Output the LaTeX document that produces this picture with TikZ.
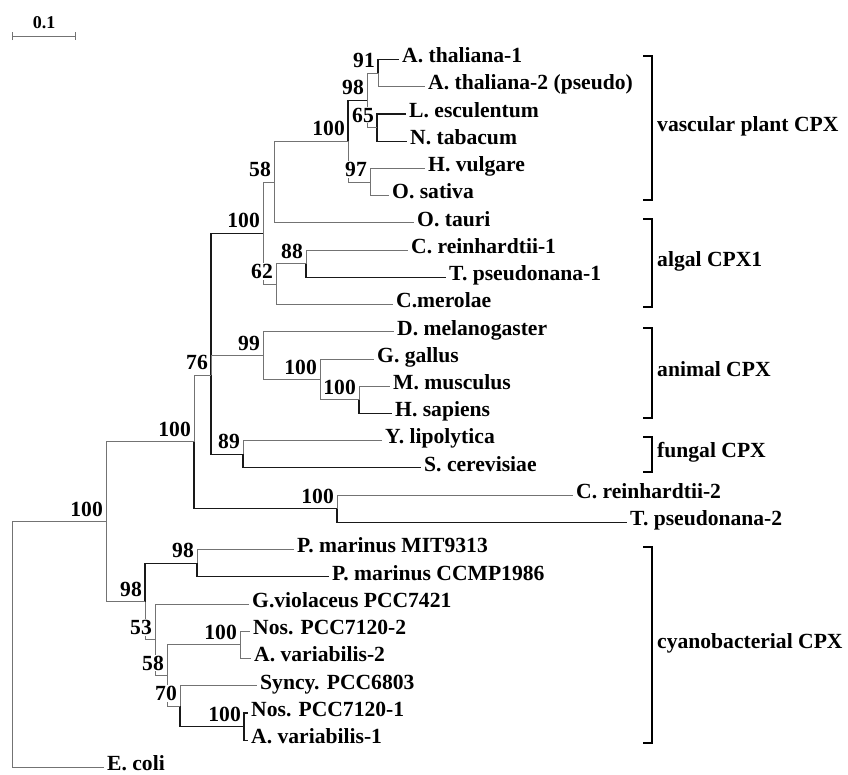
\documentclass[tikz,border=0pt]{standalone}
\usepackage{fontspec}
\setmainfont{Liberation Serif}
\usetikzlibrary{arrows.meta}

\newcommand{\treefont}{\fontsize{21.6}{25}\bfseries\selectfont}

\tikzset{
  branch/.style={black!55,line width=1pt},
  darkbranch/.style={black!90,line width=1.1pt},
  bracket/.style={black,line width=1.4pt},
  leaf/.style={anchor=west,inner xsep=3pt,inner ysep=0pt,text height=0.75em,text depth=0.1em,font=\treefont},
  boot/.style={anchor=south east,fill=white,inner sep=1pt,xshift=-2pt,yshift=4pt,font=\treefont},
  grouplab/.style={anchor=west,inner sep=0pt,text height=0.75em,text depth=0.1em,font=\treefont}
}

\begin{document}
\begin{tikzpicture}[x=1pt,y=-1pt]
  \useasboundingbox (0,0) rectangle (848,774);

  % scale bar
  \coordinate (sb0) at (12,36);
  \coordinate (sb1) at (76,36);
  \draw[branch,{Bar[width=8pt]}-{Bar[width=8pt]}] (sb0) -- (sb1);
  \node (sblab) at (44,22.5) {\fontsize{18}{21}\bfseries\selectfont 0.1};

  % leaves
  \node[leaf] (at1) at (399,59.5) {A. thaliana-1};
  \node[leaf] (at2) at (425,86.7) {A. thaliana-2 (pseudo)};
  \node[leaf] (le) at (406,114.0) {L. esculentum};
  \node[leaf] (nt) at (407,141.2) {N. tabacum};
  \node[leaf] (hv) at (425,168.4) {H. vulgare};
  \node[leaf] (os) at (389,195.7) {O. sativa};
  \node[leaf] (ot) at (414,222.9) {O. tauri};
  \node[leaf] (cr1) at (408,250.1) {C. reinhardtii-1};
  \node[leaf] (tp1) at (446,277.3) {T. pseudonana-1};
  \node[leaf] (cm) at (393,304.6) {C.merolae};
  \node[leaf] (dm) at (394,331.8) {D. melanogaster};
  \node[leaf] (gg) at (374,359.0) {G. gallus};
  \node[leaf] (mm) at (390,386.3) {M. musculus};
  \node[leaf] (hs) at (392,413.5) {H. sapiens};
  \node[leaf] (yl) at (382,440.7) {Y. lipolytica};
  \node[leaf] (sc) at (421,467.9) {S. cerevisiae};
  \node[leaf] (cr2) at (573,495.2) {C. reinhardtii-2};
  \node[leaf] (tp2) at (627,522.4) {T. pseudonana-2};
  \node[leaf] (pmm) at (294,549.6) {P. marinus MIT9313};
  \node[leaf] (pmc) at (329,576.9) {P. marinus CCMP1986};
  \node[leaf] (gv) at (249,604.1) {G.violaceus PCC7421};
  \node[leaf] (nos2) at (250,631.3) {Nos. PCC7120-2};
  \node[leaf] (av2) at (251,658.5) {A. variabilis-2};
  \node[leaf] (syn) at (257,685.8) {Syncy. PCC6803};
  \node[leaf] (nos1) at (248,713.0) {Nos. PCC7120-1};
  \node[leaf] (av1) at (248,740.2) {A. variabilis-1};
  \node[leaf] (ecoli) at (104,767.5) {E. coli};

  % inner nodes
  \coordinate (n91) at (378,73.1);
  \coordinate (n65) at (377,127.6);
  \coordinate (n98) at (367,100.4);
  \coordinate (n97) at (370,182.0);
  \coordinate (n100a) at (348,141.2);
  \coordinate (n58) at (274,182.0);
  \coordinate (n88) at (306,263.7);
  \coordinate (n62) at (276,284.2);
  \coordinate (n100b) at (263,233.1);
  \coordinate (n100c) at (359,399.9);
  \coordinate (n100d) at (320,379.5);
  \coordinate (n99) at (263,355.6);
  \coordinate (n89) at (243,454.3);
  \coordinate (n76) at (211,375);
  \coordinate (n100f) at (337,508.8);
  \coordinate (n100e) at (194,441.9);
  \coordinate (n98b) at (197,563.3);
  \coordinate (n100g) at (240,644.9);
  \coordinate (n100h) at (244,726.6);
  \coordinate (n70) at (180,706.2);
  \coordinate (n58b) at (167,675.6);
  \coordinate (n53) at (155,639.8);
  \coordinate (n98c) at (145,601.6);
  \coordinate (n100A) at (106,521.7);
  \coordinate (root) at (12,644.6);

  % branches
  \draw[darkbranch] (n91) |- (at1.west);
  \draw[branch] (n91) |- (at2.west);
  \draw[darkbranch] (n65) |- (le.west);
  \draw[darkbranch] (n65) |- (nt.west);
  \draw[branch] (n98) |- (n91);
  \draw[branch] (n98) |- (n65);
  \draw[branch] (n97) |- (hv.west);
  \draw[branch] (n97) |- (os.west);
  \draw[darkbranch] (n100a) |- (n98);
  \draw[branch] (n100a) |- (n97);
  \draw[branch] (n58) |- (n100a);
  \draw[branch] (n58) |- (ot.west);
  \draw[branch] (n88) |- (cr1.west);
  \draw[darkbranch] (n88) |- (tp1.west);
  \draw[branch] (n62) |- (n88);
  \draw[branch] (n62) |- (cm.west);
  \draw[branch] (n100b) |- (n58);
  \draw[branch] (n100b) |- (n62);
  \draw[branch] (n100c) |- (mm.west);
  \draw[darkbranch] (n100c) |- (hs.west);
  \draw[branch] (n100d) |- (gg.west);
  \draw[branch] (n100d) |- (n100c);
  \draw[branch] (n99) |- (dm.west);
  \draw[branch] (n99) |- (n100d);
  \draw[branch] (n89) |- (yl.west);
  \draw[darkbranch] (n89) |- (sc.west);
  \draw[darkbranch] (n76) |- (n100b);
  \draw[branch] (n76) |- (n99);
  \draw[darkbranch] (n76) |- (n89);
  \draw[branch] (n100f) |- (cr2.west);
  \draw[darkbranch] (n100f) |- (tp2.west);
  \draw[branch] (n100e) |- (n76);
  \draw[darkbranch] (n100e) |- (n100f);
  \draw[branch] (n98b) |- (pmm.west);
  \draw[darkbranch] (n98b) |- (pmc.west);
  \draw[branch] (n100g) |- (nos2.west);
  \draw[branch] (n100g) |- (av2.west);
  \draw[darkbranch] (n100h) |- (nos1.west);
  \draw[darkbranch] (n100h) |- (av1.west);
  \draw[branch] (n70) |- (syn.west);
  \draw[darkbranch] (n70) |- (n100h);
  \draw[branch] (n58b) |- (n100g);
  \draw[branch] (n58b) |- (n70);
  \draw[branch] (n53) |- (gv.west);
  \draw[branch] (n53) |- (n58b);
  \draw[darkbranch] (n98c) |- (n98b);
  \draw[branch] (n98c) |- (n53);
  \draw[branch] (n100A) |- (n100e);
  \draw[branch] (n100A) |- (n98c);
  \draw[branch] (root) |- (n100A);
  \draw[branch] (root) |- (ecoli.west);

  % bootstrap values
  \node[boot] (b91) at (n91) {91};
  \node[boot] (b65) at (n65) {65};
  \node[boot] (b98) at (n98) {98};
  \node[boot] (b97) at (n97) {97};
  \node[boot] (b100a) at (n100a) {100};
  \node[boot] (b58) at (n58) {58};
  \node[boot] (b88) at (n88) {88};
  \node[boot] (b62) at (n62) {62};
  \node[boot] (b100b) at (n100b) {100};
  \node[boot] (b100c) at (n100c) {100};
  \node[boot] (b100d) at (n100d) {100};
  \node[boot] (b99) at (n99) {99};
  \node[boot] (b89) at (n89) {89};
  \node[boot] (b76) at (n76) {76};
  \node[boot] (b100f) at (n100f) {100};
  \node[boot] (b100e) at (n100e) {100};
  \node[boot] (b98b) at (n98b) {98};
  \node[boot] (b100g) at (n100g) {100};
  \node[boot] (b100h) at (n100h) {100};
  \node[boot] (b70) at (n70) {70};
  \node[boot] (b58b) at (n58b) {58};
  \node[boot] (b53) at (n53) {53};
  \node[boot] (b98c) at (n98c) {98};
  \node[boot] (b100A) at (n100A) {100};

  % groups
  \draw[bracket] (643,56) -- (652,56) -- (652,200) -- (643,200);
  \draw[bracket] (643,219) -- (652,219) -- (652,307) -- (643,307);
  \draw[bracket] (643,328) -- (652,328) -- (652,418) -- (643,418);
  \draw[bracket] (643,437) -- (652,437) -- (652,472) -- (643,472);
  \draw[bracket] (643,547) -- (652,547) -- (652,743) -- (643,743);
  \node[grouplab] (gvasc) at (657,128) {vascular plant CPX};
  \node[grouplab] (galgal) at (657,263) {algal CPX1};
  \node[grouplab] (ganimal) at (657,373) {animal CPX};
  \node[grouplab] (gfungal) at (657,454.5) {fungal CPX};
  \node[grouplab] (gcyano) at (657,645) {cyanobacterial CPX};
\end{tikzpicture}
\end{document}
